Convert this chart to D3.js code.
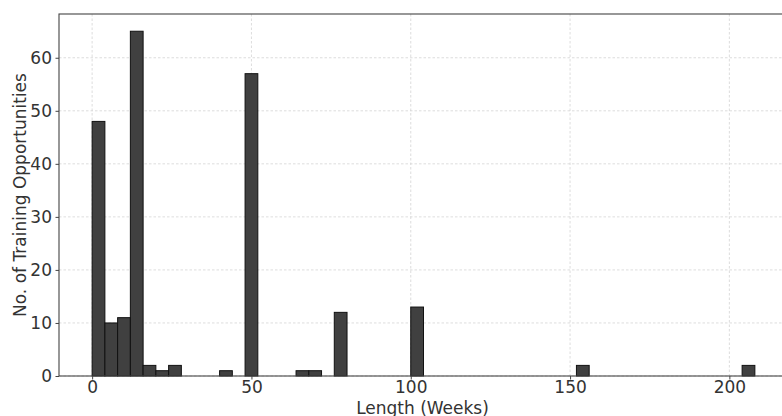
<!DOCTYPE html>
<html>
<head>
<meta charset="utf-8">
<script src="https://cdn.jsdelivr.net/npm/d3@7"></script>
<style>
html,body{margin:0;padding:0;background:#fff;}
svg{display:block;font-family:"DejaVu Sans",sans-serif;}
</style>
</head>
<body>
<svg id="chart" width="782" height="416"></svg>
<script>
// Histogram bins (weeks): start of each non-empty bin, bin width 4
const binStarts = [0, 4, 8, 12, 16, 20, 24, 40, 48, 64, 68, 76, 100, 152, 204];
const counts    = [48, 10, 11, 65, 2, 1, 2, 1, 57, 1, 1, 12, 13, 2, 2];
const binWidth = 4;
const xTicks = [0, 50, 100, 150, 200];
const yTicks = [0, 10, 20, 30, 40, 50, 60];
const xLabel = "Length (Weeks)";
const yLabel = "No. of Training Opportunities";

const svg = d3.select("#chart");
const pL = 59, pR = 788, pT = 14, pB = 376;

const x = d3.scaleLinear().domain([-10.4, 218.4]).range([pL, pR]);
const y = d3.scaleLinear().domain([0, 68.25]).range([pB, pT]);

const data = binStarts.map((s, i) => ({s, c: counts[i]}));

// grid
const grid = svg.append("g");
grid.selectAll("line.gx").data(xTicks).join("line")
  .attr("x1", d => x(d)).attr("x2", d => x(d))
  .attr("y1", pT).attr("y2", pB)
  .attr("stroke", "#d4d4d4").attr("stroke-width", 0.8).attr("stroke-dasharray", "2.5,2");
grid.selectAll("line.gy").data(yTicks).join("line")
  .attr("x1", pL).attr("x2", pR)
  .attr("y1", d => y(d)).attr("y2", d => y(d))
  .attr("stroke", "#d4d4d4").attr("stroke-width", 0.8).attr("stroke-dasharray", "2.5,2");

// bars
svg.append("g").selectAll("rect").data(data).join("rect")
  .attr("x", d => x(d.s))
  .attr("width", d => x(d.s + binWidth) - x(d.s))
  .attr("y", d => y(d.c))
  .attr("height", d => y(0) - y(d.c))
  .attr("fill", "#404040")
  .attr("stroke", "#111")
  .attr("stroke-width", 1);

// axes
const xAxis = svg.append("g").attr("transform", `translate(0,${pB})`)
  .call(d3.axisBottom(x).tickValues(xTicks).tickSize(3.5).tickPadding(1.5));
const yAxis = svg.append("g").attr("transform", `translate(${pL},0)`)
  .call(d3.axisLeft(y).tickValues(yTicks).tickSize(3.5).tickPadding(3.5));
[xAxis, yAxis].forEach(a => {
  a.select(".domain").remove();
  a.selectAll(".tick line").attr("stroke", "#444");
  a.selectAll(".tick text").attr("fill", "#333").style("font-size", "17px").style("font-family", "DejaVu Sans");
});

// spines
svg.append("rect").attr("x", pL).attr("y", pT)
  .attr("width", pR - pL).attr("height", pB - pT)
  .attr("fill", "none").attr("stroke", "#444").attr("stroke-width", 1.1);

// labels
svg.append("text").attr("x", (pL + pR) / 2 - 1).attr("y", 413.5)
  .attr("text-anchor", "middle").attr("fill", "#333")
  .style("font-size", "17px").text(xLabel);
svg.append("text")
  .attr("transform", `translate(26,${(pT + pB) / 2}) rotate(-90)`)
  .attr("text-anchor", "middle").attr("fill", "#333")
  .style("font-size", "17px").text(yLabel);
</script>
</body>
</html>
